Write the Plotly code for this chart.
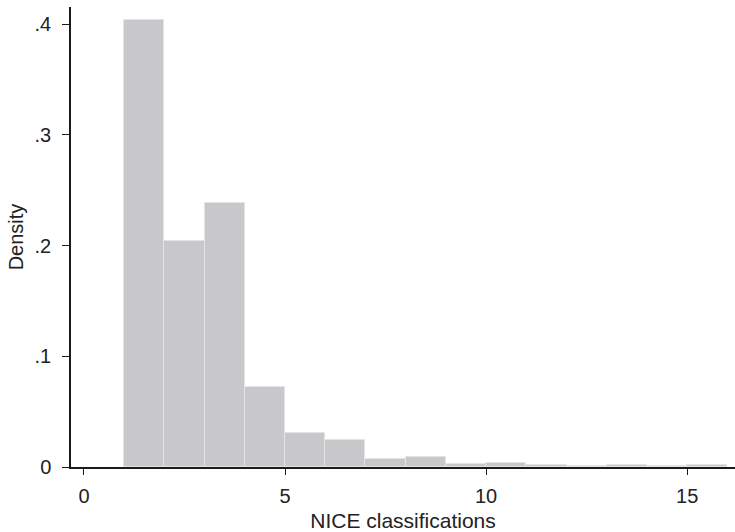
import plotly.graph_objects as go

# Histogram of NICE classification counts (density scale, bin width 1)
bin_left = [1, 2, 3, 4, 5, 6, 7, 8, 9, 10, 11, 12, 13, 14, 15]
density = [0.404, 0.204, 0.2385, 0.072, 0.031, 0.024, 0.0075, 0.009,
           0.0027, 0.0036, 0.0022, 0.0012, 0.0022, 0.0008, 0.0018]

y_tickvals = [0, 0.1, 0.2, 0.3, 0.4]
y_ticktext = ["0", ".1", ".2", ".3", ".4"]
x_tickvals = [0, 5, 10, 15]
x_ticktext = ["0", "5", "10", "15"]

bin_centers = [b + 0.5 for b in bin_left]

fig = go.Figure(
    go.Bar(
        x=bin_centers,
        y=density,
        width=1,
        marker=dict(color="#c8c8ca", line=dict(color="#e4e4e6", width=1)),
        hoverinfo="x+y",
    )
)

font_family = "Liberation Sans, Arial, Helvetica, sans-serif"
axis_color = "#1a1a1a"

fig.update_layout(
    width=735,
    height=532,
    margin=dict(l=71, r=0, t=7, b=65),
    paper_bgcolor="white",
    plot_bgcolor="white",
    bargap=0,
    showlegend=False,
    font=dict(family=font_family, size=20, color="#222222"),
)

fig.update_xaxes(
    range=[-0.323, 16.19],
    tickvals=x_tickvals,
    ticktext=x_ticktext,
    ticks="outside",
    ticklen=6,
    tickwidth=1.2,
    tickcolor=axis_color,
    showline=True,
    linecolor=axis_color,
    linewidth=1.5,
    showgrid=False,
    zeroline=False,
    ticklabelstandoff=4,
    title=dict(text="NICE classifications", font=dict(size=21), standoff=10),
    tickfont=dict(size=20),
)

fig.update_yaxes(
    range=[0, 0.4154],
    tickvals=y_tickvals,
    ticktext=y_ticktext,
    ticks="outside",
    ticklen=7,
    tickwidth=1.2,
    tickcolor=axis_color,
    showline=True,
    linecolor=axis_color,
    linewidth=1.5,
    showgrid=False,
    zeroline=False,
    ticklabelstandoff=7,
    title=dict(text="Density", font=dict(size=20), standoff=6),
    tickfont=dict(size=20),
)

fig.write_html("out.html")
